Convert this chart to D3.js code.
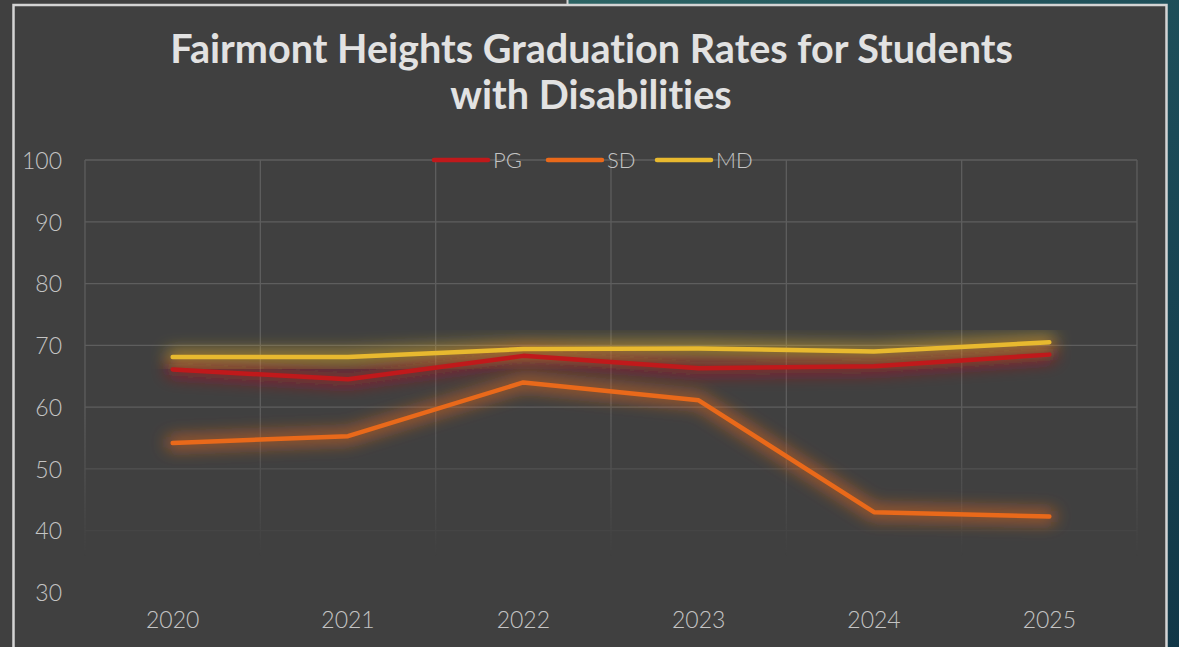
<!DOCTYPE html>
<html><head><meta charset="utf-8">
<script src="https://cdn.jsdelivr.net/npm/d3@7"></script>
<style>
html,body{margin:0;padding:0;background:#404040;overflow:hidden;}
svg{display:block;}
text{font-variant-ligatures:none;font-feature-settings:"liga" 0,"clig" 0;}
</style></head>
<body>
<svg id="c" width="1179" height="647"></svg>
<script>
const years = ["2020","2021","2022","2023","2024","2025"];
const pgValues = [66.1, 64.5, 68.3, 66.3, 66.6, 68.5];
const sdValues = [54.2, 55.3, 64.0, 61.1, 43.0, 42.3];
const mdValues = [68.1, 68.1, 69.4, 69.5, 69.0, 70.5];
const yTicks = [30, 40, 50, 60, 70, 80, 90, 100];
const seriesNames = ["PG", "SD", "MD"];
const seriesColors = ["#c0191b", "#e9691a", "#e8b92f"];
const titleLines = ["Fairmont Heights Graduation Rates for Students", "with Disabilities"];

const series = [
  {name: seriesNames[0], color: seriesColors[0], values: pgValues},
  {name: seriesNames[1], color: seriesColors[1], values: sdValues},
  {name: seriesNames[2], color: seriesColors[2], values: mdValues}
];

const svg = d3.select("#c");
const W = 1179, H = 647;
const defs = svg.append("defs");

const bg = defs.append("linearGradient").attr("id","teal").attr("x1","0").attr("y1","0").attr("x2","1").attr("y2","1");
bg.append("stop").attr("offset","0").attr("stop-color","#2c6464");
bg.append("stop").attr("offset","0.6").attr("stop-color","#1b4a57");
bg.append("stop").attr("offset","1").attr("stop-color","#113747");
svg.append("rect").attr("x",560).attr("y",0).attr("width",W-560).attr("height",H).attr("fill","url(#teal)");

svg.append("rect").attr("x",-10).attr("y",-10).attr("width",577.5).attr("height",H+20)
  .attr("fill","#404040").attr("stroke","#d4d4d4").attr("stroke-width",2);
svg.append("rect").attr("x",13.5).attr("y",5).attr("width",1153).attr("height",H+20)
  .attr("fill","#404040").attr("stroke","#d4d4d4").attr("stroke-width",2.5);

const x = d3.scaleBand().domain(years).range([85, 1137]).padding(0);
const y = d3.scaleLinear().domain([30, 100]).range([592.5, 160]);

const fg = defs.append("linearGradient").attr("id","fade").attr("gradientUnits","userSpaceOnUse")
  .attr("x1",0).attr("y1",160).attr("x2",0).attr("y2",600);
fg.append("stop").attr("offset","0").attr("stop-color","#fff");
fg.append("stop").attr("offset","0.55").attr("stop-color","#fff");
fg.append("stop").attr("offset","0.72").attr("stop-color","#888");
fg.append("stop").attr("offset","0.9").attr("stop-color","#000");
defs.append("mask").attr("id","gridmask").attr("maskUnits","userSpaceOnUse")
  .attr("x",0).attr("y",0).attr("width",W).attr("height",H)
  .append("rect").attr("x",0).attr("y",0).attr("width",W).attr("height",H).attr("fill","url(#fade)");

const grid = svg.append("g").attr("mask","url(#gridmask)");
grid.selectAll("line.h").data(yTicks).join("line").attr("class","h")
  .attr("x1",85).attr("x2",1137).attr("y1",d=>y(d)).attr("y2",d=>y(d))
  .attr("stroke","#5e5e5e").attr("stroke-width",1.3);
const vlines = years.map(d=>x(d)).concat([x.range()[1]]);
grid.selectAll("line.v").data(vlines).join("line").attr("class","v")
  .attr("x1",d=>d).attr("x2",d=>d).attr("y1",160).attr("y2",592.5)
  .attr("stroke","#5e5e5e").attr("stroke-width",1.3);

const yAxis = d3.axisLeft(y).tickValues(yTicks).tickSize(0).tickPadding(0);
const ya = svg.append("g").attr("transform","translate(62,0)").call(yAxis);
ya.select(".domain").remove();
ya.selectAll("text").attr("fill","#c4c4c4").attr("font-family","Lato, 'Open Sans', sans-serif")
  .attr("font-weight",300).attr("font-size",23).attr("dy","0.36em");

const xAxis = d3.axisBottom(x).tickSize(0).tickPadding(0);
const xa = svg.append("g").attr("transform","translate(0,612)").call(xAxis);
xa.select(".domain").remove();
xa.selectAll("text").attr("fill","#c4c4c4").attr("font-family","Lato, 'Open Sans', sans-serif")
  .attr("font-weight",300).attr("font-size",23).attr("dy","0.71em");

const f = defs.append("filter").attr("id","glow").attr("x","-20%").attr("y","-80%").attr("width","140%").attr("height","260%");
f.append("feGaussianBlur").attr("stdDeviation",8);

const line = d3.line().x((d,i)=>x(years[i]) + x.bandwidth()/2).y(d=>y(d));
series.forEach(s=>{
  svg.append("path").attr("d",line(s.values)).attr("fill","none").attr("stroke",s.color)
    .attr("stroke-width",14).attr("stroke-opacity",0.6).attr("stroke-linecap","round")
    .attr("filter","url(#glow)");
});
series.forEach(s=>{
  svg.append("path").attr("d",line(s.values)).attr("fill","none").attr("stroke",s.color)
    .attr("stroke-width",4.5).attr("stroke-linecap","round").attr("stroke-linejoin","round");
});

const legendX = [434, 548, 657];
const lg = svg.append("g");
series.forEach((s,i)=>{
  lg.append("line").attr("x1",legendX[i]).attr("x2",legendX[i]+54).attr("y1",160).attr("y2",160)
    .attr("stroke",s.color).attr("stroke-width",4.5).attr("stroke-linecap","round");
  lg.append("text").attr("x",legendX[i]+59).attr("y",160).attr("dy","0.36em")
    .attr("fill","#c4c4c4").attr("font-family","Lato, 'Open Sans', sans-serif").attr("font-weight",300)
    .attr("font-size",22).text(s.name);
});

const tg = svg.append("g");
const t1 = tg.append("text").attr("x",591.5).attr("y",63).attr("text-anchor","middle")
  .attr("fill","#e2e2e2").attr("font-family","Lato, 'Open Sans', sans-serif").attr("font-weight",700)
  .attr("font-size",30).text(titleLines[0]);
const w1 = t1.node().getComputedTextLength();
const fs = 30 * 843 / w1;
t1.attr("font-size",fs);
tg.append("text").attr("x",591).attr("y",109).attr("text-anchor","middle")
  .attr("fill","#e2e2e2").attr("font-family","Lato, 'Open Sans', sans-serif").attr("font-weight",700)
  .attr("font-size",fs).text(titleLines[1]);
</script>
</body></html>
